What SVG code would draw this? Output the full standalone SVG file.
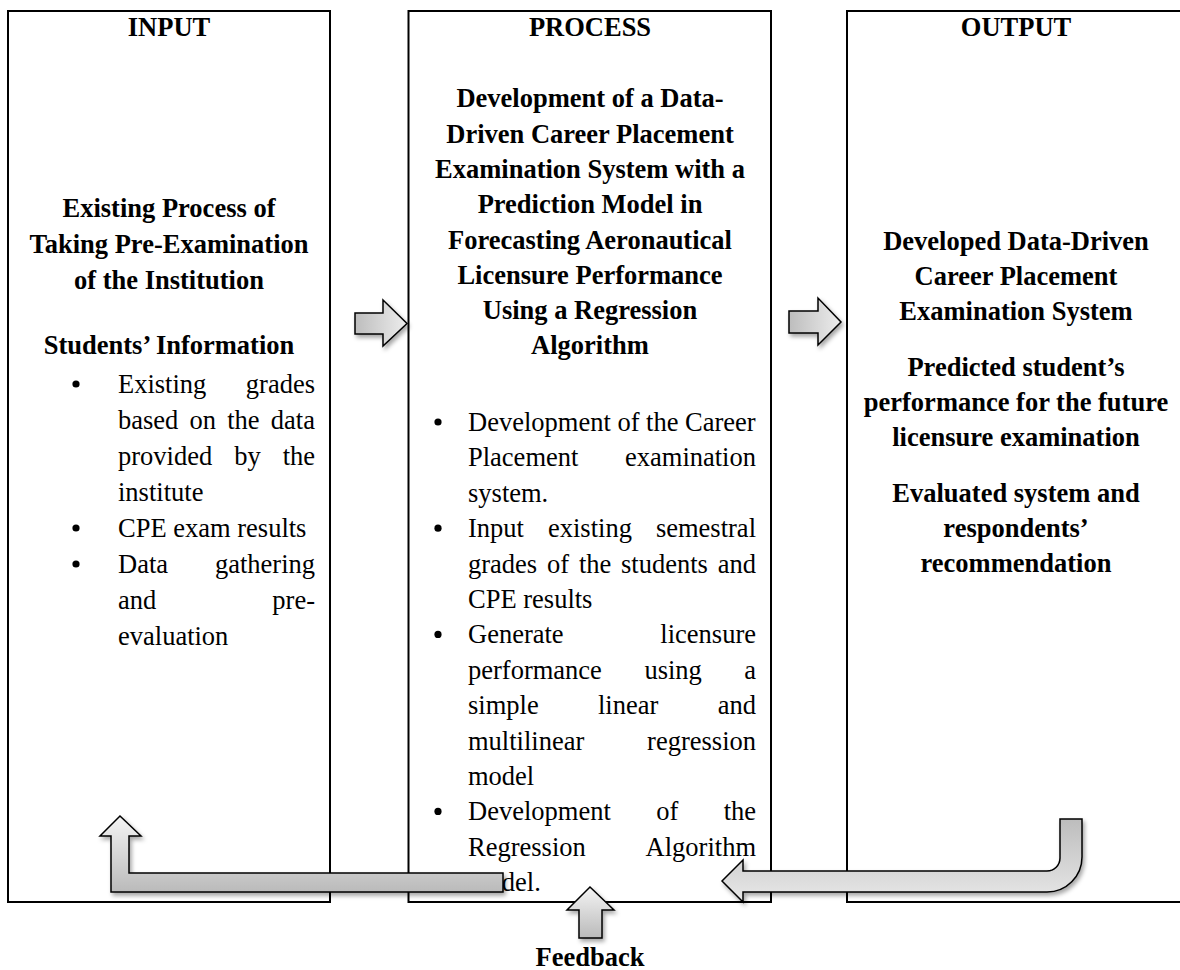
<svg xmlns="http://www.w3.org/2000/svg" width="1180" height="970" viewBox="0 0 1180 970">
<defs>
<style>
.box{fill:#fff;stroke:#000;stroke-width:2}
text{font-family:"Liberation Serif","Times New Roman",serif;font-size:26.5px;fill:#000}
.t{font-weight:bold;text-anchor:middle}
.e{text-anchor:end}
.dot{fill:#000}
.arr{stroke:#000;stroke-width:1.5;stroke-linejoin:miter;filter:url(#sh)}
</style>
<linearGradient id="gh" x1="0" y1="0" x2="1" y2="0"><stop offset="0" stop-color="#bdbdbd"/><stop offset="1" stop-color="#ededed"/></linearGradient>
<linearGradient id="gup" x1="0" y1="0" x2="0" y2="1"><stop offset="0" stop-color="#f4f4f4"/><stop offset="1" stop-color="#bababa"/></linearGradient>
<linearGradient id="gj" x1="0" y1="0" x2="0" y2="1"><stop offset="0" stop-color="#bdbdbd"/><stop offset="1" stop-color="#e8e8e8"/></linearGradient>
<filter id="sh" x="-20%" y="-30%" width="150%" height="180%"><feDropShadow dx="2" dy="3" stdDeviation="2" flood-color="#000" flood-opacity="0.35"/></filter>
</defs>
<rect width="1180" height="970" fill="#fff"/>

<g id="input">
<rect class="box" x="8" y="11" width="322" height="891"/>
<text class="t" x="169" y="36">INPUT</text>
<text class="t" x="169" y="217">Existing Process of</text>
<text class="t" x="169" y="253">Taking Pre-Examination</text>
<text class="t" x="169" y="289">of the Institution</text>
<text class="t" x="169" y="354">Students’ Information</text>
<circle class="dot" cx="76" cy="384" r="3.6"/>
<circle class="dot" cx="76" cy="528" r="3.6"/>
<circle class="dot" cx="76" cy="564" r="3.6"/>
<text x="118" y="393">Existing</text><text class="e" x="315" y="393">grades</text>
<text x="118" y="429">based</text><text x="189.5" y="429">on</text><text x="227.2" y="429">the</text><text class="e" x="315" y="429">data</text>
<text x="118" y="465">provided</text><text x="234.2" y="465">by</text><text class="e" x="315" y="465">the</text>
<text x="118" y="501">institute</text>
<text x="118" y="537">CPE exam results</text>
<text x="118" y="573">Data</text><text class="e" x="315" y="573">gathering</text>
<text x="118" y="609">and</text><text class="e" x="315" y="609">pre-</text>
<text x="118" y="645">evaluation</text>
</g>

<g id="process">
<rect class="box" x="408.5" y="11" width="362.5" height="891"/>
<text class="t" x="590" y="36">PROCESS</text>
<text class="t" x="590" y="107">Development of a Data-</text>
<text class="t" x="590" y="142.5">Driven Career Placement</text>
<text class="t" x="590" y="178">Examination System with a</text>
<text class="t" x="590" y="213">Prediction Model in</text>
<text class="t" x="590" y="248.5">Forecasting Aeronautical</text>
<text class="t" x="590" y="283.5">Licensure Performance</text>
<text class="t" x="590" y="319">Using a Regression</text>
<text class="t" x="590" y="354">Algorithm</text>
<circle class="dot" cx="438" cy="422" r="3.6"/>
<circle class="dot" cx="438" cy="528.2" r="3.6"/>
<circle class="dot" cx="438" cy="634.4" r="3.6"/>
<circle class="dot" cx="438" cy="811.4" r="3.6"/>
<text x="468" y="431">Development of the Career</text>
<text x="468" y="466.4">Placement</text><text class="e" x="756" y="466.4">examination</text>
<text x="468" y="501.8">system.</text>
<text x="468" y="537.2">Input</text><text x="548" y="537.2">existing</text><text class="e" x="756" y="537.2">semestral</text>
<text x="468" y="572.6">grades</text><text x="547" y="572.6">of</text><text x="578.9" y="572.6">the</text><text x="621" y="572.6">students</text><text class="e" x="756" y="572.6">and</text>
<text x="468" y="608">CPE results</text>
<text x="468" y="643.4">Generate</text><text class="e" x="756" y="643.4">licensure</text>
<text x="468" y="678.8">performance</text><text x="644.4" y="678.8">using</text><text class="e" x="756" y="678.8">a</text>
<text x="468" y="714.2">simple</text><text x="598" y="714.2">linear</text><text class="e" x="756" y="714.2">and</text>
<text x="468" y="749.6">multilinear</text><text class="e" x="756" y="749.6">regression</text>
<text x="468" y="785">model</text>
<text x="468" y="820.4">Development</text><text x="656.2" y="820.4">of</text><text class="e" x="756" y="820.4">the</text>
<text x="468" y="855.8">Regression</text><text class="e" x="756" y="855.8">Algorithm</text>
<text x="468" y="891">model.</text>
</g>

<g id="output">
<rect class="box" x="847" y="11" width="345" height="891"/>
<text class="t" x="1016" y="36">OUTPUT</text>
<text class="t" x="1016" y="250">Developed Data-Driven</text>
<text class="t" x="1016" y="285">Career Placement</text>
<text class="t" x="1016" y="320">Examination System</text>
<text class="t" x="1016" y="376">Predicted student’s</text>
<text class="t" x="1016" y="411">performance for the future</text>
<text class="t" x="1016" y="446">licensure examination</text>
<text class="t" x="1016" y="502">Evaluated system and</text>
<text class="t" x="1016" y="537">respondents’</text>
<text class="t" x="1016" y="572">recommendation</text>
</g>

<g id="connectors">
<path class="arr" fill="url(#gh)" d="M355 313 H383 V300 L407 323.5 L383 346 V334 H355 Z"/>
<path class="arr" fill="url(#gh)" d="M789 311 H818 V298 L841 322 L818 345 V333 H789 Z"/>
<path class="arr" fill="url(#gup)" d="M503 873 V892 H111 V836 H100 L120 816 L141 836 H129 V873 Z"/>
<path class="arr" fill="url(#gj)" d="M1060 819 H1082 V857 A35 35 0 0 1 1047 892 H743 V902 L722 881 L743 860 V871 H1047 A13 13 0 0 0 1060 858 Z"/>
<path class="arr" fill="url(#gup)" d="M579 938 V910 H567 L590 887 L614 910 H602 V938 Z"/>
</g>

<g id="feedback">
<text class="t" x="590" y="966">Feedback</text>
</g>
</svg>
